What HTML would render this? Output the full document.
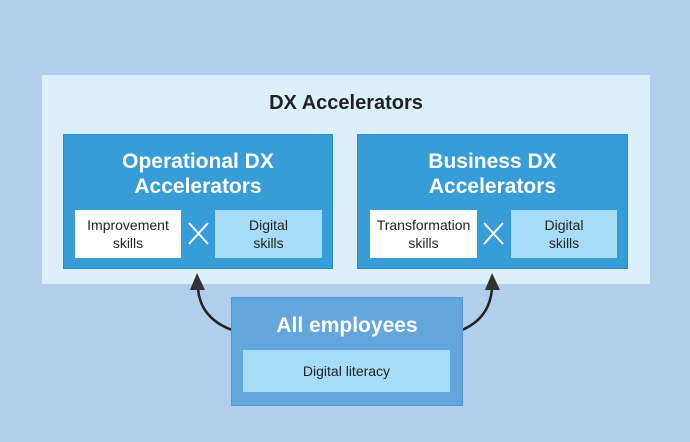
<!DOCTYPE html>
<html><head><style>
body{margin:0;width:690px;height:442px;background:#b1cfec;position:relative;overflow:hidden;font-family:"Liberation Sans",sans-serif}
div{position:absolute;box-sizing:border-box}
.c{display:flex;align-items:center;justify-content:center;text-align:center}
.panel{left:42px;top:75px;width:608px;height:209px;background:#dcf0fb}
.blue{background:#379dd8;border:1px solid #2a8ccb}
.t{color:#fff;font-weight:bold;font-size:21px;line-height:25px;width:100%;text-align:center}
.s{font-size:14px;line-height:18px;color:#222}
.w{background:#fff}
.lc{background:#a6dcf7}
.x{color:#fff;font-size:30px;font-weight:200}
</style></head><body>
<div class="panel"></div>
<div style="left:42px;top:92px;width:608px;text-align:center;font-size:20px;font-weight:bold;color:#222">DX Accelerators</div>
<div class="blue" style="left:63px;top:134px;width:270px;height:135px"></div>
<div class="t" style="left:63px;top:149px;width:270px">Operational DX<br>Accelerators</div>
<div class="w c s" style="left:75px;top:210px;width:106px;height:48px">Improvement<br>skills</div>
<div class="lc c s" style="left:215px;top:210px;width:107px;height:48px">Digital<br>skills</div>
<div class="blue" style="left:357px;top:134px;width:271px;height:135px"></div>
<div class="t" style="left:357px;top:149px;width:271px">Business DX<br>Accelerators</div>
<div class="w c s" style="left:370px;top:210px;width:107px;height:48px">Transformation<br>skills</div>
<div class="lc c s" style="left:511px;top:210px;width:106px;height:48px">Digital<br>skills</div>
<svg style="position:absolute;left:0;top:0" width="690" height="442">
<g stroke="#fff" stroke-width="2"><line x1="189" y1="223" x2="208" y2="244"/><line x1="208" y1="223" x2="189" y2="244"/>
<line x1="484" y1="223" x2="503" y2="244"/><line x1="503" y1="223" x2="484" y2="244"/></g>
<g fill="none" stroke="#222" stroke-width="2.5"><path d="M232 330 Q200 318 198 288"/><path d="M462 330 Q490 318 492 288"/></g>
<polygon points="190,290 205,290 197,273" fill="#333"/>
<polygon points="485,290 500,290 492,273" fill="#333"/>
</svg>
<div style="left:231px;top:297px;width:232px;height:109px;background:#62a6dc;border:1px solid #4f98d3"></div>
<div class="t" style="left:231px;top:313px;width:232px">All employees</div>
<div class="lc c s" style="left:243px;top:350px;width:207px;height:42px">Digital literacy</div>
</body></html>
